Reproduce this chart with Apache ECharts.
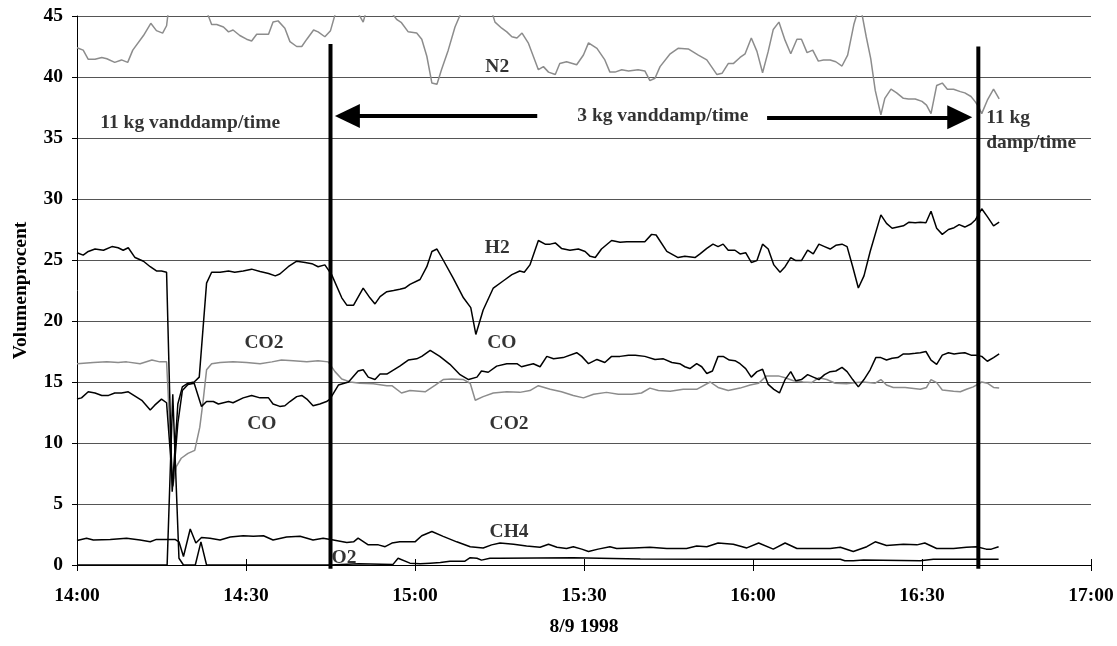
<!DOCTYPE html>
<html><head><meta charset="utf-8">
<script src="https://cdn.jsdelivr.net/npm/echarts@6/dist/echarts.min.js"></script>
<style>html,body{margin:0;padding:0;background:#fff}#c{width:1117px;height:646px}</style>
</head><body><div id="c"></div>
<script>
// time = minutes after 14:00 (8/9 1998), values = volume %
const xTickLabels = ['14:00','14:30','15:00','15:30','16:00','16:30','17:00'];

const n2 = [[0,42.4],[1.1,42.2],[2.0,41.45],[3.2,41.45],[4.4,41.6],[5.3,41.5],[6.7,41.2],[7.9,41.4],[9.0,41.2],[9.9,42.2],[11.8,43.4],[13.1,44.4],[14.1,43.8],[15.2,43.6],[15.9,44.2],
[16.9,48],[17.9,55],[18.9,58],[19.9,56],[20.9,50],[21.9,46.8],[23.0,45.4],[23.9,44.3],[24.8,44.3],[26.0,44.1],[26.9,43.7],[27.7,43.85],[28.9,43.4],[30.1,43.1],[31.0,42.95],[31.9,43.5],[33.1,43.5],[34.0,43.5],[34.8,44.5],[35.7,44.6],[36.9,44.0],[37.8,42.9],[39.0,42.5],[39.9,42.5],[40.8,43.1],[42.0,43.85],[42.8,43.7],[44.0,43.3],[45.0,43.8],
[46.1,45.6],[47.0,47],[48.0,47.5],[49.0,46.5],[49.7,45.4],[50.8,44.5],[51.8,46.2],[52.8,47],[53.8,46.5],[54.6,46.3],[55.6,45.4],[56.8,44.7],[57.6,44.45],[58.8,43.7],[60.3,43.6],[61.2,43.1],[62.1,41.7],[63.0,39.5],[63.9,39.4],[64.7,40.6],[65.9,42.2],[67.1,44.1],[68.3,45.4],
[69.3,47],[70.3,48.5],[71.3,48.5],[72.3,47],[73.6,45.4],[74.2,44.5],[75.4,44.0],[76.3,43.7],[77.2,43.3],[78.1,43.2],[79.0,43.6],[80.1,42.8],[81.9,40.6],[82.8,40.85],[83.7,40.4],[84.9,40.2],[85.7,41.1],[86.9,41.25],[88.7,41.0],[89.9,41.8],[90.8,42.8],[92.3,42.35],[93.7,41.4],[94.6,40.4],[95.5,40.4],[96.7,40.6],[97.9,40.5],[99.6,40.6],[100.8,40.5],[101.7,39.7],[102.6,39.9],[103.5,40.85],[105.3,41.9],[106.7,42.35],[108.5,42.3],[110.3,41.8],[111.8,41.4],[113.6,40.2],[114.5,40.3],[115.6,41.1],[116.5,41.1],[117.7,41.6],[118.6,41.9],[119.7,43.2],[120.7,42.1],[121.7,40.35],[122.7,42.1],[123.6,43.9],[124.6,44.5],[125.7,43.0],[126.7,41.9],[127.8,43.1],[128.6,43.1],[129.6,42.0],[130.6,42.2],[131.6,41.3],[132.5,41.4],[133.7,41.4],[134.7,41.25],[135.8,40.9],[136.8,41.8],[137.9,44.3],[139.0,46.0],[140.1,43.3],[140.9,41.5],[141.7,38.9],[142.7,36.9],[143.4,38.25],[144.5,39.0],[145.5,38.7],[146.7,38.25],[147.6,38.2],[148.8,38.2],[150.0,38.0],[150.8,37.7],[151.6,37.0],[152.6,39.3],[153.6,39.5],[154.5,39.0],[155.6,39.0],[156.8,38.8],[157.6,38.7],[158.7,38.4],[159.4,38.0],[160.0,37.6],[160.6,37.0],[161.6,38.1],[162.7,39.0],[163.7,38.2]];

const h2 = [[0,25.6],[1.1,25.4],[2.0,25.7],[3.2,25.9],[4.7,25.8],[6.2,26.1],[7.3,26.0],[8.2,25.8],[9.1,26.0],[10.3,25.2],[11.8,24.9],[13.0,24.45],[14.1,24.1],[15.0,24.1],[15.9,24.0],
[16.9,6.0],[17.9,13.2],[18.7,14.6],[19.7,14.9],[20.8,15.0],[21.7,15.4],[23.0,23.1],[23.9,24.0],[25.4,24.0],[26.9,24.1],[28.0,24.0],[29.5,24.1],[31.0,24.25],[32.5,24.05],[34.0,23.9],[35.2,23.7],[36.0,23.85],[37.5,24.45],[39.0,24.9],[40.5,24.8],[41.7,24.7],[42.8,24.45],[44.0,24.6],[45.2,23.8],
[47.0,21.9],[47.9,21.3],[49.1,21.3],[50.8,22.7],[52.0,21.9],[52.9,21.4],[53.8,22.0],[55.0,22.4],[56.2,22.5],[57.3,22.6],[58.2,22.7],[59.1,23.0],[60.9,23.4],[62.1,24.45],[63.0,25.7],[63.9,25.9],[65.0,25.0],[66.8,23.5],[68.6,21.9],[69.9,21.1],[70.8,18.9],[72.1,20.9],[73.9,22.7],[75.7,23.3],[77.2,23.8],[78.6,24.1],[79.4,24.0],[80.4,24.6],[81.9,26.6],[83.1,26.3],[84.0,26.3],[84.9,26.4],[86.0,25.95],[87.5,25.8],[89.0,25.9],[90.2,25.7],[91.1,25.3],[92.0,25.2],[93.1,25.9],[94.9,26.6],[96.4,26.45],[97.6,26.5],[99.1,26.5],[100.8,26.5],[102.0,27.1],[102.8,27.05],[104.7,25.7],[106.7,25.2],[107.9,25.3],[109.7,25.2],[110.6,25.5],[111.8,25.95],[112.9,26.3],[113.8,26.1],[114.7,26.3],[115.6,25.8],[116.8,25.8],[117.7,25.5],[118.7,25.6],[119.7,24.8],[120.7,24.95],[121.7,26.3],[122.7,25.9],[123.7,24.6],[124.8,24.0],[125.7,24.45],[126.7,25.2],[127.6,24.95],[128.6,24.95],[129.7,25.8],[130.7,25.5],[131.7,26.3],[132.7,26.1],[133.7,25.9],[134.7,26.2],[135.8,26.3],[136.7,26.1],[137.7,24.45],[138.7,22.7],[139.7,23.7],[140.8,25.7],[142.7,28.7],[143.7,28.0],[144.7,27.6],[145.7,27.7],[146.7,27.8],[147.7,28.1],[148.8,28.05],[149.7,28.1],[150.7,28.05],[151.6,29.0],[152.6,27.6],[153.6,27.1],[154.7,27.5],[155.7,27.65],[156.6,27.9],[157.6,27.7],[158.7,27.95],[159.5,28.3],[160.6,29.2],[161.6,28.55],[162.7,27.8],[163.7,28.1]];

const co = [[0,13.6],[0.8,13.7],[2.0,14.2],[3.2,14.1],[4.4,13.9],[5.6,13.9],[6.7,14.1],[7.9,14.1],[9.1,14.2],[10.3,13.85],[11.5,13.5],[13.0,12.7],[13.8,13.1],[15.0,13.6],[15.9,13.3],
[17.0,6.5],[17.9,11.6],[18.7,14.3],[19.7,14.8],[20.8,14.9],[22.1,13.0],[23.0,13.4],[24.2,13.4],[25.1,13.2],[26.0,13.3],[26.9,13.4],[27.7,13.3],[29.5,13.7],[31.0,13.9],[32.5,13.7],[34.0,13.7],[34.8,13.2],[36.0,13.0],[36.9,13.05],[37.8,13.4],[39.0,13.8],[39.9,13.9],[40.8,13.6],[41.9,13.05],[43.1,13.2],[44.3,13.4],[44.9,13.6],
[46.4,14.75],[48.2,15.0],[49.9,15.9],[50.8,16.0],[51.7,15.4],[52.9,15.2],[53.8,15.65],[55.0,15.65],[57.3,16.3],[58.8,16.8],[60.3,16.9],[61.2,17.1],[62.7,17.6],[64.4,17.1],[66.2,16.45],[68.0,15.6],[69.5,15.2],[71.0,15.4],[71.8,15.9],[73.0,15.8],[74.5,16.3],[76.3,16.5],[78.1,16.5],[78.9,16.25],[80.1,16.4],[81.0,16.5],[82.2,16.25],[83.4,17.1],[84.6,16.9],[86.3,17.0],[88.7,17.4],[89.6,17.1],[90.8,16.5],[92.3,16.85],[93.7,16.6],[94.9,17.1],[96.4,17.1],[97.9,17.2],[99.1,17.2],[100.8,17.1],[102.6,16.85],[104.1,16.9],[105.6,16.6],[107.0,16.5],[107.9,16.25],[108.8,16.1],[110.0,16.5],[110.9,16.25],[111.8,15.7],[112.8,15.9],[113.8,17.1],[114.7,17.1],[115.8,16.8],[116.8,16.75],[117.7,16.5],[118.7,16.1],[119.7,15.4],[120.7,15.85],[121.7,16.05],[122.7,14.8],[123.7,14.4],[124.7,14.1],[125.7,15.2],[126.7,15.85],[127.6,15.1],[128.6,15.2],[129.7,15.6],[130.7,15.4],[131.7,15.2],[132.7,15.6],[133.7,15.85],[134.7,15.9],[135.8,16.2],[136.7,15.85],[137.7,15.2],[138.7,14.6],[139.7,15.2],[140.8,16.0],[141.8,17.0],[142.7,17.0],[143.7,16.8],[144.7,16.95],[145.7,17.0],[146.7,17.3],[147.7,17.3],[148.8,17.35],[149.7,17.4],[150.7,17.5],[151.6,16.8],[152.6,16.45],[153.6,17.2],[154.7,17.4],[155.7,17.3],[156.6,17.35],[157.6,17.4],[158.7,17.2],[159.6,17.2],[160.6,17.1],[161.6,16.7],[162.7,17.0],[163.7,17.3]];

const co2 = [[0,16.5],[2.9,16.6],[5.3,16.65],[7.3,16.6],[8.8,16.65],[11.2,16.5],[13.3,16.8],[14.7,16.65],[15.9,16.65],
[17.0,6.4],[17.6,8.05],[18.5,8.75],[19.7,9.15],[20.9,9.4],[21.8,11.3],[22.4,13.5],[23.0,16.0],[23.9,16.5],[25.4,16.6],[27.7,16.65],[30.1,16.6],[32.5,16.5],[34.6,16.65],[36.3,16.8],[38.4,16.75],[40.8,16.65],[42.8,16.75],[44.6,16.65],
[45.8,15.85],[47.0,15.25],[48.5,15.0],[50.2,14.9],[52.6,14.85],[55.0,14.7],[55.9,14.7],[57.6,14.1],[59.1,14.3],[61.8,14.2],[63.6,14.75],[65.0,15.2],[66.5,15.25],[68.6,15.2],[69.8,14.9],[70.7,13.5],[72.1,13.8],[73.9,14.1],[76.3,14.2],[78.6,14.15],[80.4,14.3],[81.9,14.7],[84.0,14.4],[86.0,14.2],[88.1,13.9],[89.9,13.7],[91.7,14.0],[94.0,14.15],[96.1,14.0],[98.5,14.0],[100.2,14.1],[101.7,14.5],[103.2,14.3],[105.3,14.25],[107.6,14.4],[110.0,14.4],[112.4,15.0],[113.8,14.55],[115.6,14.3],[117.7,14.5],[119.5,14.75],[121.0,14.9],[122.4,15.5],[124.5,15.5],[125.7,15.35],[127.2,15.1],[128.9,15.0],[130.4,14.95],[131.7,15.35],[133.1,15.2],[134.6,14.9],[136.6,14.85],[138.4,14.95],[139.6,15.0],[141.7,14.9],[142.7,15.2],[143.7,14.75],[144.9,14.55],[147.0,14.55],[149.7,14.4],[150.8,14.55],[151.6,15.2],[152.6,14.95],[153.6,14.35],[155.6,14.25],[156.8,14.2],[157.9,14.4],[159.1,14.6],[160.6,15.0],[161.6,14.9],[162.7,14.55],[163.7,14.5]];

const ch4 = [[0,2.0],[1.7,2.2],[2.9,2.05],[5.9,2.1],[8.8,2.2],[11.2,2.05],[13.0,1.9],[14.1,2.1],[15.9,2.1],[17.4,2.1],[18.1,1.9],[18.9,0.7],[20.1,2.95],[21.1,1.8],[22.1,2.25],[23.6,2.2],[25.4,2.05],[27.2,2.3],[29.5,2.4],[31.3,2.35],[33.1,2.4],[34.8,2.05],[37.2,2.3],[39.6,2.35],[41.9,2.05],[43.7,2.2],[45.5,2.05],[47.9,1.85],[49.1,1.9],[49.9,2.2],[51.7,1.65],[53.5,1.65],[54.7,1.5],[55.9,1.8],[57.3,1.9],[60.0,1.9],[61.2,2.4],[63.0,2.75],[65.0,2.35],[67.4,1.9],[69.8,1.5],[72.1,1.4],[73.6,1.65],[75.1,1.8],[77.5,1.7],[79.8,1.55],[82.2,1.45],[83.7,1.7],[85.2,1.45],[86.9,1.35],[88.1,1.5],[89.6,1.3],[90.8,1.1],[92.5,1.3],[94.6,1.5],[95.8,1.35],[98.8,1.4],[101.7,1.45],[104.7,1.35],[108.2,1.35],[110.0,1.55],[111.8,1.5],[113.8,1.8],[116.5,1.7],[118.9,1.4],[121.0,1.8],[123.6,1.3],[125.7,1.8],[127.8,1.35],[130.7,1.35],[133.7,1.35],[135.5,1.45],[137.8,1.1],[140.2,1.5],[141.7,1.9],[143.7,1.6],[146.7,1.7],[149.1,1.65],[150.5,1.8],[152.6,1.35],[155.6,1.35],[157.9,1.45],[159.7,1.5],[161.4,1.3],[162.3,1.3],[163.6,1.5]];

const o2 = [[0,0],[16.0,0],[17.0,14.0],[18.1,0.55],[18.9,0],[21.0,0],[22.0,1.9],[23.0,0],[45.0,0],[50.0,0.1],[56.1,0.05],[57.0,0.55],[59.1,0.15],[60.9,0.1],[62.7,0.15],[64.5,0.2],[66.2,0.3],[68.8,0.3],[69.8,0.6],[71.0,0.55],[71.8,0.4],[73.3,0.55],[75.1,0.55],[88.1,0.6],[100,0.5],[114.2,0.47],[135.5,0.47],[136.3,0.35],[137.8,0.35],[139.6,0.4],[149.7,0.35],[152.0,0.47],[163.6,0.47]];

// annotations (data coordinates)
const dividerTimes = [45, 160];
const dividerTops = [42.7, 42.5];
const dividerBottom = -0.3;
const arrowFrom = [[81.7, 36.8], [122.5, 36.7]];
const arrowTo = [[48.0, 36.8], [156.7, 36.7]];
const gasLabels = [['N2',74.6,40.8],['H2',74.6,26.0],['CO',75.4,18.2],['CO2',76.7,11.6],['CO2',33.2,18.2],['CO',32.8,11.6],['CH4',76.7,2.7],['O2',47.4,0.6]];
const noteLabels = [['11 kg vanddamp/time',20.1,36.2],['3 kg vanddamp/time',104.0,36.8]];
const noteLeft = [['11 kg\ndamp/time',161.4,35.6]];

const FONT = "'Liberation Serif','Times New Roman',serif";
const txt = {fontFamily: FONT, fontWeight: 'bold', fontSize: 19.5, color: '#000'};
const BLACK = '#000', GREY = '#8c8c8c';

function lineSeries(name, data, color) {
  return {name, type: 'line', data, showSymbol: false, symbol: 'none', clip: true,
    lineStyle: {color, width: 1.5}, z: 3, silent: true};
}

const series = [
  lineSeries('N2', n2, GREY),
  lineSeries('CO2', co2, GREY),
  lineSeries('H2', h2, BLACK),
  lineSeries('CO', co, BLACK),
  lineSeries('CH4', ch4, BLACK),
  lineSeries('O2', o2, BLACK)
];
dividerTimes.forEach((t, i) => {
  series.push({type: 'line', data: [[t, dividerTops[i]], [t, dividerBottom]], clip: false,
    symbol: 'none', lineStyle: {color: '#000', width: 4}, z: 6, silent: true});
});
series.push({type: 'line', data: [], symbol: 'none', silent: true,
  markLine: {silent: true, animation: false, symbol: ['none', 'triangle'], symbolSize: [24, 25],
    label: {show: false}, lineStyle: {color: '#000', width: 4, type: 'solid'},
    emphasis: {disabled: true},
    data: arrowFrom.map((f, i) => [{coord: f}, {coord: arrowTo[i]}])}, z: 6});
series.push({type: 'scatter', symbolSize: 0, silent: true, z: 7,
  data: gasLabels.concat(noteLabels).map(d => ({name: d[0], value: [d[1], d[2]]})),
  label: Object.assign({show: true, position: 'inside', formatter: '{b}', align: 'center', verticalAlign: 'middle'}, txt)});
series.push({type: 'scatter', symbolSize: 0, silent: true, z: 7,
  data: noteLeft.map(d => ({name: d[0], value: [d[1], d[2]]})),
  label: Object.assign({show: true, position: 'inside', formatter: '{b}', align: 'left', verticalAlign: 'middle', lineHeight: 25}, txt)});

const chart = echarts.init(document.getElementById('c'), null, {renderer: 'canvas'});
chart.setOption({
  animation: false,
  backgroundColor: '#fff',
  grid: {left: 77, right: 26, top: 16, bottom: 81, containLabel: false},
  xAxis: [{
    type: 'value', min: 0, max: 180, interval: 30,
    name: '8/9 1998', nameLocation: 'middle', nameGap: 52, nameTextStyle: txt,
    axisLine: {show: true, lineStyle: {color: '#000', width: 1}},
    axisTick: {show: true, inside: false, length: 6, lineStyle: {color: '#000'}},
    axisLabel: Object.assign({margin: 21, formatter: v => xTickLabels[Math.round(v / 30)]}, txt),
    splitLine: {show: false}
  }, {
    type: 'value', min: 0, max: 180, interval: 30, position: 'bottom',
    axisLine: {show: false}, axisLabel: {show: false}, splitLine: {show: false},
    axisTick: {show: true, inside: true, length: 6, lineStyle: {color: '#000'}}
  }],
  yAxis: {
    type: 'value', min: 0, max: 45, interval: 5,
    name: 'Volumenprocent', nameLocation: 'middle', nameGap: 46, nameTextStyle: txt,
    axisLine: {show: true, lineStyle: {color: '#000', width: 1}},
    axisTick: {show: true, inside: false, length: 5, lineStyle: {color: '#000'}},
    axisLabel: Object.assign({margin: 14}, txt),
    splitLine: {show: true, lineStyle: {color: '#555', width: 1}}
  },
  series
});
</script></body></html>
